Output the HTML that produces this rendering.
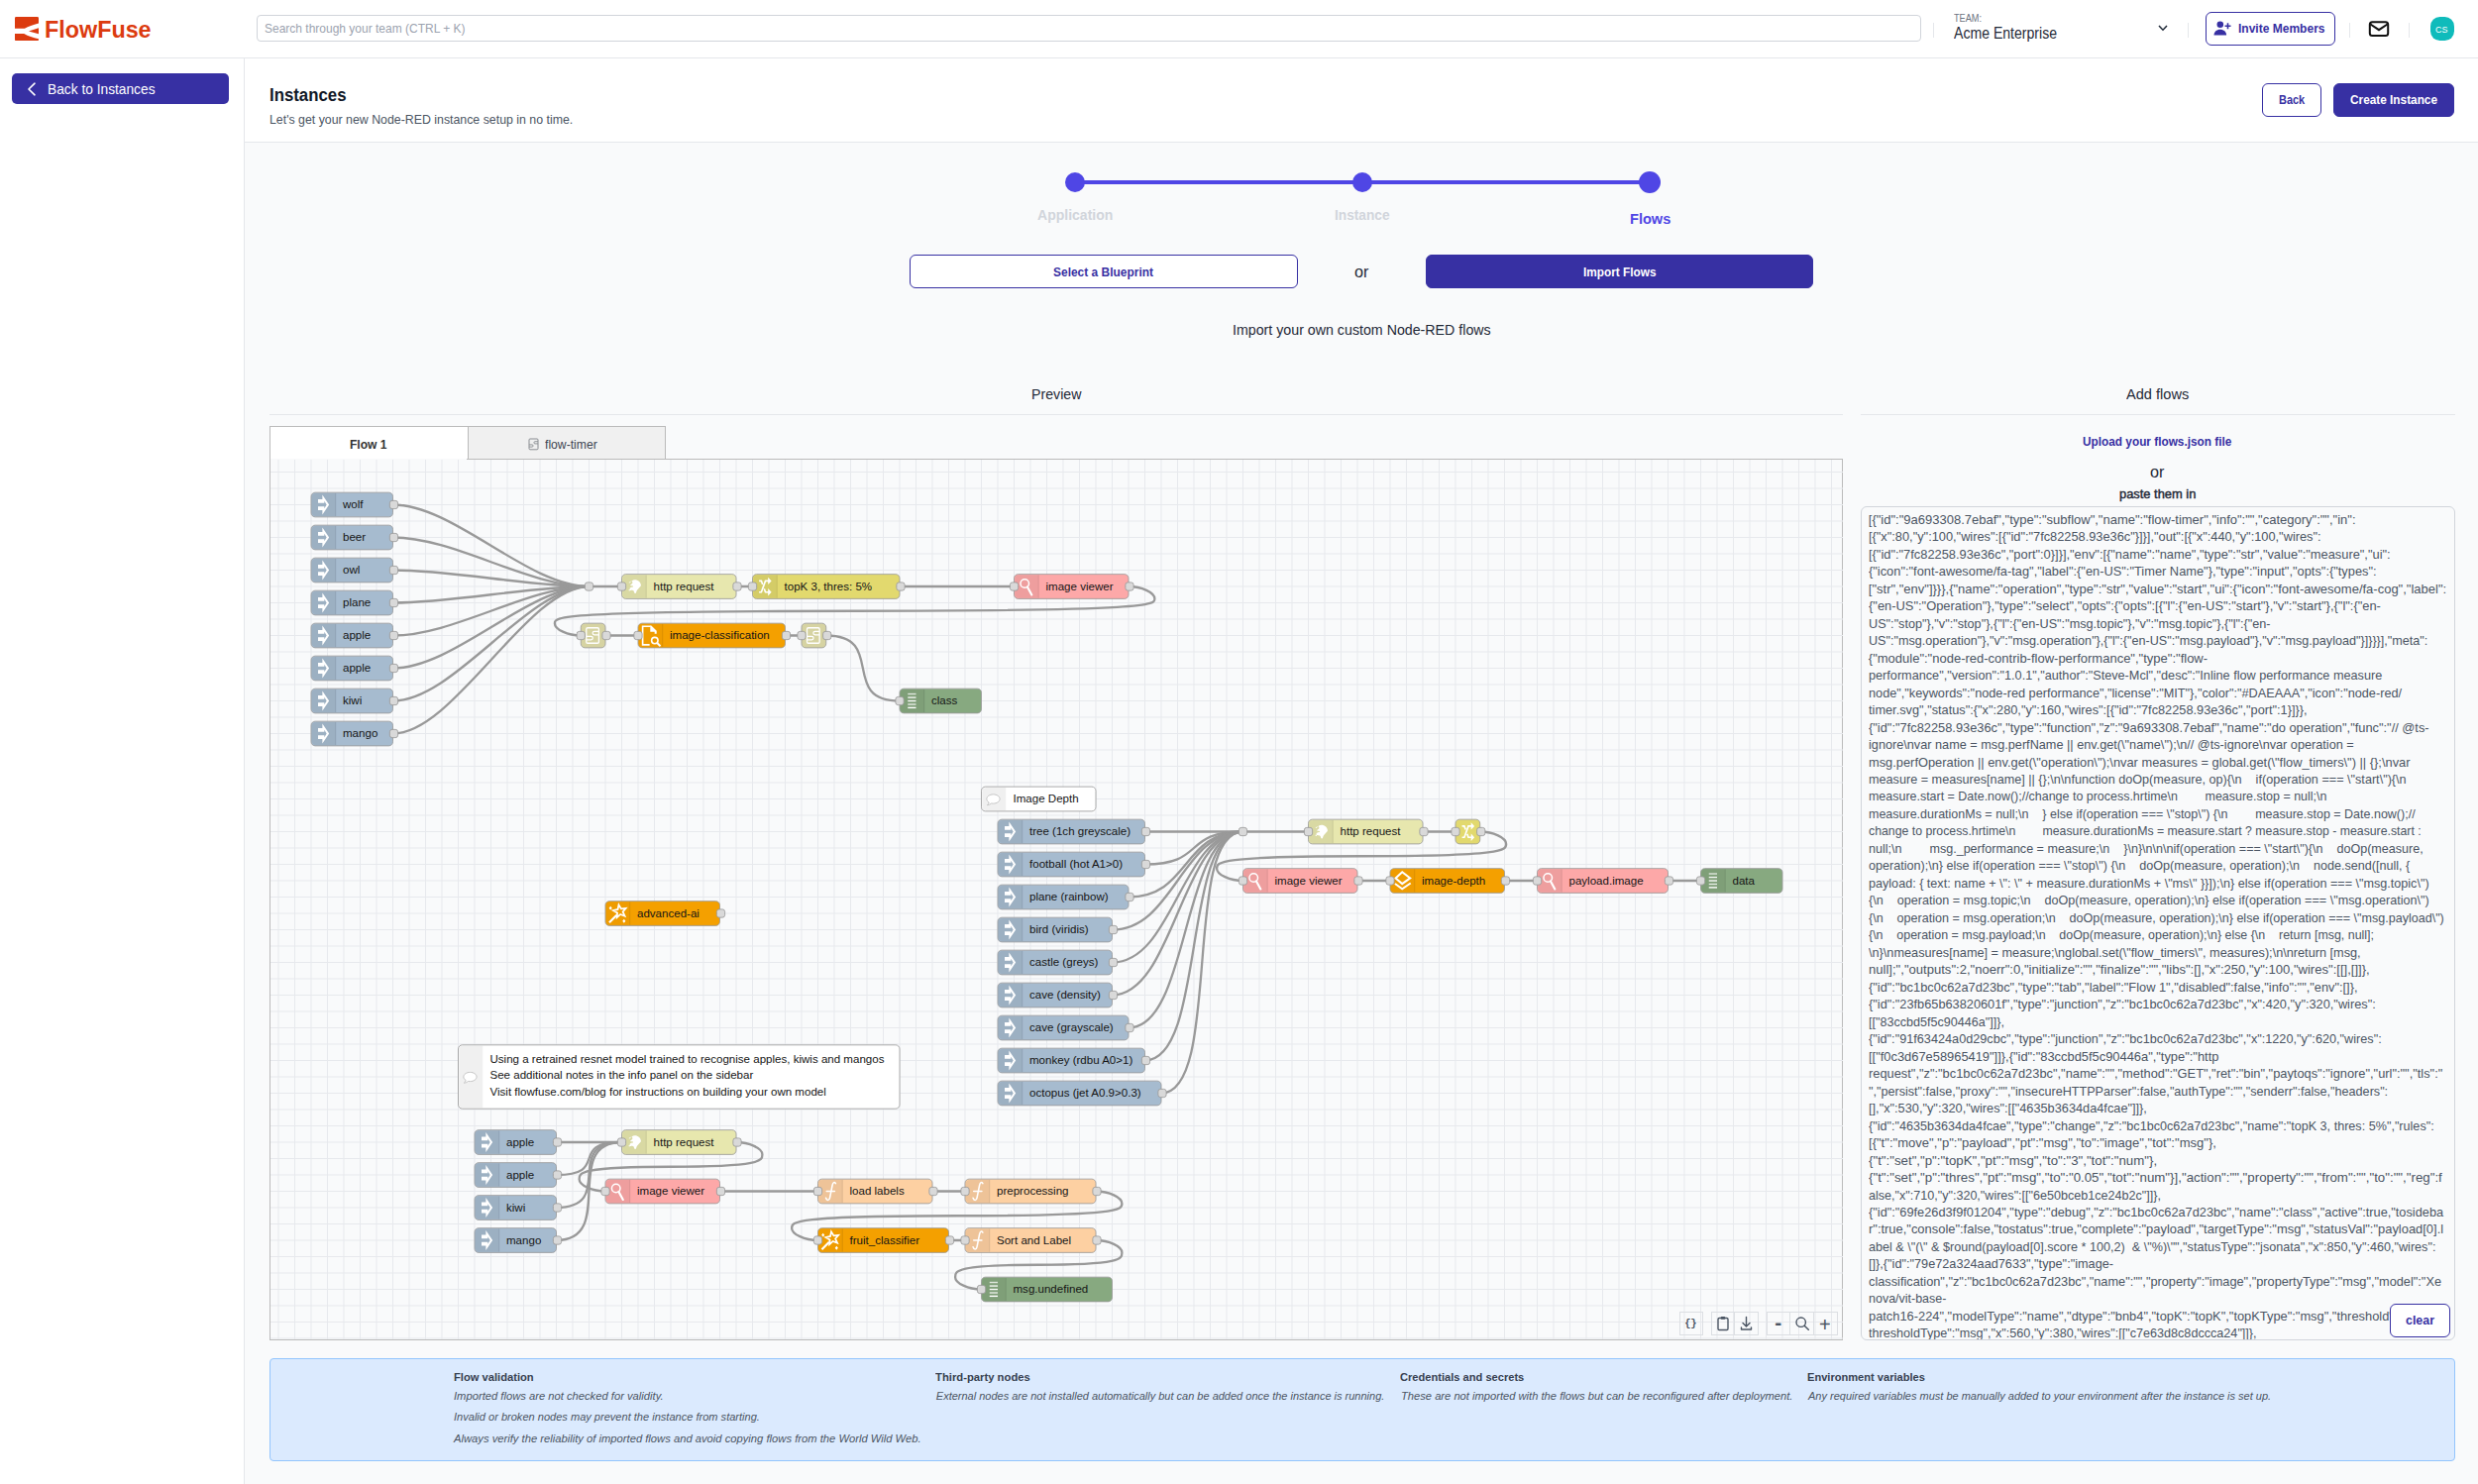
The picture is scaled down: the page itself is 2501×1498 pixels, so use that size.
<!DOCTYPE html><html lang="en"><head><meta charset="utf-8"><title>FlowFuse - Instances</title><style>
*{box-sizing:border-box;margin:0;padding:0}
html,body{width:2501px;height:1498px;overflow:hidden;background:#f9fafb;font-family:"Liberation Sans", Arial, sans-serif}
.a{position:absolute}
.t{position:absolute;white-space:nowrap;transform-origin:0 50%;}
.btn{position:absolute;border-radius:6px;border:1px solid #3730a3}
.sep{position:absolute;width:1px;background:#e5e7eb;top:23px;height:15px}
.tb{position:absolute;top:1324px;height:24px;border:1px solid #dcdfe3;}
</style></head><body>
<div class="a" style="left:0;top:0;width:2501px;height:59px;background:#fff;border-bottom:1px solid #e5e7eb"></div>
<svg class="a" style="left:15px;top:16.900px" width="24" height="24.200" viewBox="0 0 23.900 24.100"><g fill="#dc3b0f"><path d="M1.200 0H22.700a1.200 1.200 0 0 1 1.200 1.200V6.600C18 8 13.500 9.800 9.850 11.800H0V1.200A1.200 1.200 0 0 1 1.200 0Z"/><path d="M13.900 14.500L23.900 11.100V17.100Z"/><path d="M0 16.900H9.200C13.500 19.200 18 21 23.900 22.100V22.900a1.200 1.200 0 0 1-1.200 1.200H1.200A1.200 1.200 0 0 1 0 22.900Z"/></g></svg>
<div class="a" style="left:259px;top:15px;width:1680px;height:27px;border:1px solid #d1d5db;border-radius:4px;background:#fff"></div>
<div class="sep" style="left:1951px"></div>
<div class="sep" style="left:2208px"></div>
<div class="sep" style="left:2371px"></div>
<div class="sep" style="left:2431px"></div>
<svg class="a" style="left:2177px;top:24px" width="12" height="9" viewBox="0 0 12 9"><path d="M2 2L6 6.200L10 2" fill="none" stroke="#1f2937" stroke-width="1.500"/></svg>
<div class="btn" style="left:2226px;top:12px;width:131px;height:34px;background:#fff"></div>
<svg class="a" style="left:2234px;top:20px" width="18" height="17" viewBox="0 0 18 17"><g fill="#3730a3"><circle cx="6.800" cy="4.800" r="3.300"/><path d="M0.500 15.500c0-3.600 2.700-5.800 6.300-5.800s6.300 2.200 6.300 5.800Z"/><path d="M13.700 3.300h1.600v2.200h2.200v1.600h-2.200v2.200h-1.600V7.100h-2.200V5.500h2.200Z"/></g></svg>
<svg class="a" style="left:2390px;top:20px" width="22" height="18" viewBox="0 0 22 18"><rect x="1.800" y="2.200" width="18.400" height="13.800" rx="2.500" fill="none" stroke="#111" stroke-width="2"/><path d="M2.500 4.500L11 10.200L19.500 4.500" fill="none" stroke="#111" stroke-width="2"/></svg>
<div class="a" style="left:2452.500px;top:17px;width:24px;height:24px;border-radius:9.5px;background:#0fbbbb"></div>
<div class="a" style="left:0;top:59px;width:247px;height:1439px;background:#fff;border-right:1px solid #e5e7eb"></div>
<div class="a" style="left:12px;top:74px;width:218.500px;height:30.500px;border-radius:5px;background:#3730a3"></div>
<svg class="a" style="left:26px;top:82px" width="12" height="16" viewBox="0 0 12 16"><path d="M9 2.200L3 8L9 13.800" fill="none" stroke="#fff" stroke-width="1.600" stroke-linecap="round" stroke-linejoin="round"/></svg>
<div class="a" style="left:247px;top:59px;width:2254px;height:85px;background:#fff;border-bottom:1px solid #e5e7eb"></div>
<div class="btn" style="left:2282.800px;top:84px;width:60.700px;height:33.500px;background:#fff"></div>
<div class="btn" style="left:2354.800px;top:84px;width:122.700px;height:33.500px;background:#3730a3"></div>
<div class="a" style="left:1084px;top:182px;width:581px;height:4px;background:#4f46e5"></div>
<div class="a" style="left:1074.500px;top:173.800px;width:20px;height:20px;border-radius:10px;background:#4f46e5"></div>
<div class="a" style="left:1364.800px;top:173.800px;width:20px;height:20px;border-radius:10px;background:#4f46e5"></div>
<div class="a" style="left:1654.200px;top:172.900px;width:22px;height:22px;border-radius:11px;background:#4f46e5"></div>
<div class="btn" style="left:918px;top:257px;width:391.500px;height:33.500px;background:#fff"></div>
<div class="btn" style="left:1438.800px;top:257px;width:391.200px;height:33.500px;background:#3730a3"></div>
<div class="a" style="left:272px;top:418px;width:1588px;height:1px;background:#e5e7eb"></div>
<div class="a" style="left:1878px;top:418px;width:600px;height:1px;background:#e5e7eb"></div>
<div class="a" style="left:272px;top:430px;width:200px;height:34px;background:#fff;border:1px solid #bbb;border-bottom:none;border-right:none"></div>
<div class="a" style="left:472px;top:430px;width:200px;height:34px;background:#f0f0f0;border:1px solid #bbb"></div>
<svg class="a" style="left:533.3px;top:441.600px" width="11" height="13" viewBox="0 0 11 13"><rect x="1" y="1" width="9" height="10.800" rx="1" fill="none" stroke="#8a8d92" stroke-width="1"/><path d="M10 3.700H7a1.100 1.100 0 0 0 0 2.200H10M1 6.900H4a1.100 1.100 0 0 1 0 2.200H1" fill="none" stroke="#8a8d92" stroke-width=".9"/></svg>
<div class="a" style="left:272px;top:463px;width:1588px;height:890px;border:1px solid #bbb;border-top-color:#bbb"></div>
<div class="a" style="left:273px;top:463px;width:198px;height:1px;background:#f9fafb"></div>
<div class="a" style="left:273px;top:464px;width:1587px;height:888px;overflow:hidden"><svg width="1587" height="889" style="position:absolute;left:0;top:0"><path d="M8.00 0V889M24.50 0V889M41.00 0V889M57.50 0V889M74.00 0V889M90.50 0V889M107.00 0V889M123.50 0V889M140.00 0V889M156.50 0V889M173.00 0V889M189.50 0V889M206.00 0V889M222.50 0V889M239.00 0V889M255.50 0V889M272.00 0V889M288.50 0V889M305.00 0V889M321.50 0V889M338.00 0V889M354.50 0V889M371.00 0V889M387.50 0V889M404.00 0V889M420.50 0V889M437.00 0V889M453.50 0V889M470.00 0V889M486.50 0V889M503.00 0V889M519.50 0V889M536.00 0V889M552.50 0V889M569.00 0V889M585.50 0V889M602.00 0V889M618.50 0V889M635.00 0V889M651.50 0V889M668.00 0V889M684.50 0V889M701.00 0V889M717.50 0V889M734.00 0V889M750.50 0V889M767.00 0V889M783.50 0V889M800.00 0V889M816.50 0V889M833.00 0V889M849.50 0V889M866.00 0V889M882.50 0V889M899.00 0V889M915.50 0V889M932.00 0V889M948.50 0V889M965.00 0V889M981.50 0V889M998.00 0V889M1014.50 0V889M1031.00 0V889M1047.50 0V889M1064.00 0V889M1080.50 0V889M1097.00 0V889M1113.50 0V889M1130.00 0V889M1146.50 0V889M1163.00 0V889M1179.50 0V889M1196.00 0V889M1212.50 0V889M1229.00 0V889M1245.50 0V889M1262.00 0V889M1278.50 0V889M1295.00 0V889M1311.50 0V889M1328.00 0V889M1344.50 0V889M1361.00 0V889M1377.50 0V889M1394.00 0V889M1410.50 0V889M1427.00 0V889M1443.50 0V889M1460.00 0V889M1476.50 0V889M1493.00 0V889M1509.50 0V889M1526.00 0V889M1542.50 0V889M1559.00 0V889M1575.50 0V889M0 12.50H1587M0 29.00H1587M0 45.50H1587M0 62.00H1587M0 78.50H1587M0 95.00H1587M0 111.50H1587M0 128.00H1587M0 144.50H1587M0 161.00H1587M0 177.50H1587M0 194.00H1587M0 210.50H1587M0 227.00H1587M0 243.50H1587M0 260.00H1587M0 276.50H1587M0 293.00H1587M0 309.50H1587M0 326.00H1587M0 342.50H1587M0 359.00H1587M0 375.50H1587M0 392.00H1587M0 408.50H1587M0 425.00H1587M0 441.50H1587M0 458.00H1587M0 474.50H1587M0 491.00H1587M0 507.50H1587M0 524.00H1587M0 540.50H1587M0 557.00H1587M0 573.50H1587M0 590.00H1587M0 606.50H1587M0 623.00H1587M0 639.50H1587M0 656.00H1587M0 672.50H1587M0 689.00H1587M0 705.50H1587M0 722.00H1587M0 738.50H1587M0 755.00H1587M0 771.50H1587M0 788.00H1587M0 804.50H1587M0 821.00H1587M0 837.50H1587M0 854.00H1587M0 870.50H1587M0 887.00H1587" stroke="#e7e9ed" stroke-width="1" fill="none"/></svg><svg width="1587" height="889" viewBox="0 0 1587 889" style="position:absolute;left:0;top:0">
<style>.nl{font-family:"Liberation Sans",Arial,sans-serif;font-size:14px;fill:#151515}.pt{fill:#d9d9d9;stroke:#999;stroke-width:1}.wr{fill:none;stroke:#999;stroke-width:2.8;stroke-linecap:round}</style>
<g transform="translate(-25 -136) scale(0.825)">
<path class="wr" d="M 180 220 C 255 220 345 320 420 320"/>
<path class="wr" d="M 180 260 C 255 260 345 320 420 320"/>
<path class="wr" d="M 180 300 C 255 300 345 320 420 320"/>
<path class="wr" d="M 180 340 C 255 340 345 320 420 320"/>
<path class="wr" d="M 180 380 C 255 380 345 320 420 320"/>
<path class="wr" d="M 180 420 C 255 420 345 320 420 320"/>
<path class="wr" d="M 180 460 C 255 460 345 320 420 320"/>
<path class="wr" d="M 180 500 C 255 500 345 320 420 320"/>
<path class="wr" d="M 420 320 C 450 320 430 320 460 320"/>
<path class="wr" d="M 600 320 C 615 320 605 320 620 320"/>
<path class="wr" d="M 800 320 C 875 320 865 320 940 320"/>
<path class="wr" d="M 1080 320 C 1096 320 1112 327.5 1112 335 S 1112 350 745 350 S 378 357.5 378 365 S 394 380 410 380"/>
<path class="wr" d="M 440 380 C 470 380 450 380 480 380"/>
<path class="wr" d="M 660 380 C 675 380 665 380 680 380"/>
<path class="wr" d="M 710 380 C 785 380 725 460 800 460"/>
<path class="wr" d="M 1100 620 C 1175 620 1145 620 1220 620"/>
<path class="wr" d="M 1100 660 C 1175 660 1145 620 1220 620"/>
<path class="wr" d="M 1080 700 C 1155 700 1145 620 1220 620"/>
<path class="wr" d="M 1060 740 C 1135 740 1145 620 1220 620"/>
<path class="wr" d="M 1060 780 C 1135 780 1145 620 1220 620"/>
<path class="wr" d="M 1060 820 C 1135 820 1145 620 1220 620"/>
<path class="wr" d="M 1080 860 C 1155 860 1145 620 1220 620"/>
<path class="wr" d="M 1100 900 C 1175 900 1145 620 1220 620"/>
<path class="wr" d="M 1120 940 C 1195 940 1145 620 1220 620"/>
<path class="wr" d="M 1220 620 C 1280 620 1240 620 1300 620"/>
<path class="wr" d="M 1440 620 C 1470 620 1450 620 1480 620"/>
<path class="wr" d="M 1510 620 C 1526 620 1542 627.5 1542 635 S 1542 650 1365 650 S 1188 657.5 1188 665 S 1204 680 1220 680"/>
<path class="wr" d="M 1360 680 C 1390 680 1370 680 1400 680"/>
<path class="wr" d="M 1540 680 C 1570 680 1550 680 1580 680"/>
<path class="wr" d="M 1740 680 C 1770 680 1750 680 1780 680"/>
<path class="wr" d="M 380 1000 C 440 1000 400 1000 460 1000"/>
<path class="wr" d="M 380 1040 C 447.082 1040 392.918 1000 460 1000"/>
<path class="wr" d="M 380 1080 C 455 1080 385 1000 460 1000"/>
<path class="wr" d="M 380 1120 C 455 1120 385 1000 460 1000"/>
<path class="wr" d="M 600 1000 C 616 1000 632 1007.5 632 1015 S 632 1030 520 1030 S 408 1037.5 408 1045 S 424 1060 440 1060"/>
<path class="wr" d="M 580 1060 C 655 1060 625 1060 700 1060"/>
<path class="wr" d="M 840 1060 C 870 1060 850 1060 880 1060"/>
<path class="wr" d="M 1040 1060 C 1056 1060 1072 1067.5 1072 1075 S 1072 1090 870 1090 S 668 1097.5 668 1105 S 684 1120 700 1120"/>
<path class="wr" d="M 860 1120 C 875 1120 865 1120 880 1120"/>
<path class="wr" d="M 1040 1120 C 1056 1120 1072 1127.5 1072 1135 S 1072 1150 970 1150 S 868 1157.5 868 1165 S 884 1180 900 1180"/>
<rect class="pt" x="415" y="315" width="10" height="10" rx="3"/>
<rect class="pt" x="1215" y="615" width="10" height="10" rx="3"/>
<g transform="translate(80 205)"><rect x="0" y="0" width="100" height="30" rx="5" fill="#a6bbcf" stroke="#999" stroke-width="1"/><path d="M5.500 1h24.500v28h-24.500a4.500 4.500 0 0 1-4.500-4.500v-19a4.500 4.500 0 0 1 4.500-4.500Z" fill="#000" fill-opacity=".06"/><path d="M30 1v28" stroke="#000" stroke-opacity=".12" stroke-width="1"/><path fill="#fff" fill-rule="evenodd" d="M8.5 8.3H13.8V3L22 15L13.8 27V21.7H8.5Z M8.5 12.9H16.2V10.4L19 15L16.2 19.6V17.1H8.5Z"/><text x="38.8" y="19.7" class="nl">wolf</text><rect class="pt" x="96.2" y="10" width="10" height="10" rx="3"/></g>
<g transform="translate(80 245)"><rect x="0" y="0" width="100" height="30" rx="5" fill="#a6bbcf" stroke="#999" stroke-width="1"/><path d="M5.500 1h24.500v28h-24.500a4.500 4.500 0 0 1-4.500-4.500v-19a4.500 4.500 0 0 1 4.500-4.500Z" fill="#000" fill-opacity=".06"/><path d="M30 1v28" stroke="#000" stroke-opacity=".12" stroke-width="1"/><path fill="#fff" fill-rule="evenodd" d="M8.5 8.3H13.8V3L22 15L13.8 27V21.7H8.5Z M8.5 12.9H16.2V10.4L19 15L16.2 19.6V17.1H8.5Z"/><text x="38.8" y="19.7" class="nl">beer</text><rect class="pt" x="96.2" y="10" width="10" height="10" rx="3"/></g>
<g transform="translate(80 285)"><rect x="0" y="0" width="100" height="30" rx="5" fill="#a6bbcf" stroke="#999" stroke-width="1"/><path d="M5.500 1h24.500v28h-24.500a4.500 4.500 0 0 1-4.500-4.500v-19a4.500 4.500 0 0 1 4.500-4.500Z" fill="#000" fill-opacity=".06"/><path d="M30 1v28" stroke="#000" stroke-opacity=".12" stroke-width="1"/><path fill="#fff" fill-rule="evenodd" d="M8.5 8.3H13.8V3L22 15L13.8 27V21.7H8.5Z M8.5 12.9H16.2V10.4L19 15L16.2 19.6V17.1H8.5Z"/><text x="38.8" y="19.7" class="nl">owl</text><rect class="pt" x="96.2" y="10" width="10" height="10" rx="3"/></g>
<g transform="translate(80 325)"><rect x="0" y="0" width="100" height="30" rx="5" fill="#a6bbcf" stroke="#999" stroke-width="1"/><path d="M5.500 1h24.500v28h-24.500a4.500 4.500 0 0 1-4.500-4.500v-19a4.500 4.500 0 0 1 4.500-4.500Z" fill="#000" fill-opacity=".06"/><path d="M30 1v28" stroke="#000" stroke-opacity=".12" stroke-width="1"/><path fill="#fff" fill-rule="evenodd" d="M8.5 8.3H13.8V3L22 15L13.8 27V21.7H8.5Z M8.5 12.9H16.2V10.4L19 15L16.2 19.6V17.1H8.5Z"/><text x="38.8" y="19.7" class="nl">plane</text><rect class="pt" x="96.2" y="10" width="10" height="10" rx="3"/></g>
<g transform="translate(80 365)"><rect x="0" y="0" width="100" height="30" rx="5" fill="#a6bbcf" stroke="#999" stroke-width="1"/><path d="M5.500 1h24.500v28h-24.500a4.500 4.500 0 0 1-4.500-4.500v-19a4.500 4.500 0 0 1 4.500-4.500Z" fill="#000" fill-opacity=".06"/><path d="M30 1v28" stroke="#000" stroke-opacity=".12" stroke-width="1"/><path fill="#fff" fill-rule="evenodd" d="M8.5 8.3H13.8V3L22 15L13.8 27V21.7H8.5Z M8.5 12.9H16.2V10.4L19 15L16.2 19.6V17.1H8.5Z"/><text x="38.8" y="19.7" class="nl">apple</text><rect class="pt" x="96.2" y="10" width="10" height="10" rx="3"/></g>
<g transform="translate(80 405)"><rect x="0" y="0" width="100" height="30" rx="5" fill="#a6bbcf" stroke="#999" stroke-width="1"/><path d="M5.500 1h24.500v28h-24.500a4.500 4.500 0 0 1-4.500-4.500v-19a4.500 4.500 0 0 1 4.500-4.500Z" fill="#000" fill-opacity=".06"/><path d="M30 1v28" stroke="#000" stroke-opacity=".12" stroke-width="1"/><path fill="#fff" fill-rule="evenodd" d="M8.5 8.3H13.8V3L22 15L13.8 27V21.7H8.5Z M8.5 12.9H16.2V10.4L19 15L16.2 19.6V17.1H8.5Z"/><text x="38.8" y="19.7" class="nl">apple</text><rect class="pt" x="96.2" y="10" width="10" height="10" rx="3"/></g>
<g transform="translate(80 445)"><rect x="0" y="0" width="100" height="30" rx="5" fill="#a6bbcf" stroke="#999" stroke-width="1"/><path d="M5.500 1h24.500v28h-24.500a4.500 4.500 0 0 1-4.500-4.500v-19a4.500 4.500 0 0 1 4.500-4.500Z" fill="#000" fill-opacity=".06"/><path d="M30 1v28" stroke="#000" stroke-opacity=".12" stroke-width="1"/><path fill="#fff" fill-rule="evenodd" d="M8.5 8.3H13.8V3L22 15L13.8 27V21.7H8.5Z M8.5 12.9H16.2V10.4L19 15L16.2 19.6V17.1H8.5Z"/><text x="38.8" y="19.7" class="nl">kiwi</text><rect class="pt" x="96.2" y="10" width="10" height="10" rx="3"/></g>
<g transform="translate(80 485)"><rect x="0" y="0" width="100" height="30" rx="5" fill="#a6bbcf" stroke="#999" stroke-width="1"/><path d="M5.500 1h24.500v28h-24.500a4.500 4.500 0 0 1-4.500-4.500v-19a4.500 4.500 0 0 1 4.500-4.500Z" fill="#000" fill-opacity=".06"/><path d="M30 1v28" stroke="#000" stroke-opacity=".12" stroke-width="1"/><path fill="#fff" fill-rule="evenodd" d="M8.5 8.3H13.8V3L22 15L13.8 27V21.7H8.5Z M8.5 12.9H16.2V10.4L19 15L16.2 19.6V17.1H8.5Z"/><text x="38.8" y="19.7" class="nl">mango</text><rect class="pt" x="96.2" y="10" width="10" height="10" rx="3"/></g>
<g transform="translate(460 305)"><rect x="0" y="0" width="140" height="30" rx="5" fill="#e7e7ae" stroke="#999" stroke-width="1"/><path d="M5.500 1h24.500v28h-24.500a4.500 4.500 0 0 1-4.500-4.500v-19a4.500 4.500 0 0 1 4.500-4.500Z" fill="#000" fill-opacity=".06"/><path d="M30 1v28" stroke="#000" stroke-opacity=".12" stroke-width="1"/><path fill="#fff" d="M12.2 8.2c1.5-1.2 4-1.6 6-1 2.6.8 5 3 5.3 6 .1 1.2-.6 2.2-1.5 2.6-.7.3-1 1.2-1.6 1.8-.8.8-1.6 1.3-2 2.4-.4 1.2-.8 3.2-1.8 3.4-1.2.2-1.5-1.8-1.9-3-.3-.9-1.700-1-2.600-1-1.200 0-2.200-.4-2.300-1.400-.1-.9.5-1.600 1.400-1.900 1-.3 2.100-.1 2.800-.8.5-.5-.3-1.200-1-1.300-.9-.1-1.900.5-2.300-.3-.3-.7.5-1.200 1.100-1.500.900-.5 1.600-1.400 1.400-2.400-.1-.5-.6-1-1-.6Z"/><path fill="#fff" d="M8.6 10.300c.9-.9 2-1.700 3.100-2l-1.200 1.700c-.5.6-1.300.9-1.900.3Z"/><circle cx="9.400" cy="19.600" r=".9" fill="#fff"/><text x="38.8" y="19.7" class="nl">http request</text><rect class="pt" x="-5" y="10" width="10" height="10" rx="3"/><rect class="pt" x="136.2" y="10" width="10" height="10" rx="3"/></g>
<g transform="translate(620 305)"><rect x="0" y="0" width="180" height="30" rx="5" fill="#e2d96e" stroke="#999" stroke-width="1"/><path d="M5.500 1h24.500v28h-24.500a4.500 4.500 0 0 1-4.500-4.500v-19a4.500 4.500 0 0 1 4.500-4.500Z" fill="#000" fill-opacity=".06"/><path d="M30 1v28" stroke="#000" stroke-opacity=".12" stroke-width="1"/><g fill="none" stroke="#fff" stroke-width="2"><path d="M8 22H10.800L15.800 8.200H20"/><path d="M8 8.200H10.800L12.400 12.600M14.300 17.800L15.800 22H20"/></g><path fill="#fff" d="M19 3.700L23.200 8.200L19 12.700ZM19 17.500L23.200 22L19 26.500Z"/><text x="38.8" y="19.7" class="nl">topK 3, thres: 5%</text><rect class="pt" x="-5" y="10" width="10" height="10" rx="3"/><rect class="pt" x="176.2" y="10" width="10" height="10" rx="3"/></g>
<g transform="translate(940 305)"><rect x="0" y="0" width="140" height="30" rx="5" fill="#fda8a8" stroke="#999" stroke-width="1"/><path d="M5.500 1h24.500v28h-24.500a4.500 4.500 0 0 1-4.500-4.500v-19a4.500 4.500 0 0 1 4.500-4.500Z" fill="#000" fill-opacity=".06"/><path d="M30 1v28" stroke="#000" stroke-opacity=".12" stroke-width="1"/><circle cx="13" cy="11.3" r="5.2" fill="none" stroke="#fff" stroke-width="1.8"/><path d="M16.3 15.6L21.6 25.3" stroke="#fff" stroke-width="2.6" stroke-linecap="round"/><text x="38.8" y="19.7" class="nl">image viewer</text><rect class="pt" x="-5" y="10" width="10" height="10" rx="3"/><rect class="pt" x="136.2" y="10" width="10" height="10" rx="3"/></g>
<g transform="translate(410 365)"><rect x="0" y="0" width="30" height="30" rx="5" fill="#d6d3a2" stroke="#999" stroke-width="1"/><rect x="6.700" y="5.600" width="15.300" height="18.800" rx="1.500" fill="none" stroke="#fff" stroke-width="1.600"/><path fill="none" stroke="#fff" stroke-width="1.500" d="M22 10H16.500a2.100 2.100 0 0 0 0 4.200H22M6.700 16H12.500a2.100 2.100 0 0 1 0 4.200H6.700"/><rect class="pt" x="-5" y="10" width="10" height="10" rx="3"/><rect class="pt" x="26.2" y="10" width="10" height="10" rx="3"/></g>
<g transform="translate(480 365)"><rect x="0" y="0" width="180" height="30" rx="5" fill="#f4a000" stroke="#999" stroke-width="1"/><path d="M5.500 1h24.500v28h-24.500a4.500 4.500 0 0 1-4.500-4.500v-19a4.500 4.500 0 0 1 4.500-4.500Z" fill="#000" fill-opacity=".02"/><path d="M30 1v28" stroke="#000" stroke-opacity=".12" stroke-width="1"/><path fill="none" stroke="#fff" stroke-width="2" d="M14.100 26.400H5.600V3.800H15.500"/><path fill="#fff" d="M14.900 2.800H16.200L22.700 9.300V12.800H20.200V10.400H14.900Z"/><circle cx="20.400" cy="21.200" r="3.900" fill="none" stroke="#fff" stroke-width="1.900"/><path d="M23.300 24.100L27.300 28" stroke="#fff" stroke-width="2.300"/><text x="38.8" y="19.7" class="nl">image-classification</text><rect class="pt" x="-5" y="10" width="10" height="10" rx="3"/><rect class="pt" x="176.2" y="10" width="10" height="10" rx="3"/></g>
<g transform="translate(680 365)"><rect x="0" y="0" width="30" height="30" rx="5" fill="#d6d3a2" stroke="#999" stroke-width="1"/><rect x="6.700" y="5.600" width="15.300" height="18.800" rx="1.500" fill="none" stroke="#fff" stroke-width="1.600"/><path fill="none" stroke="#fff" stroke-width="1.500" d="M22 10H16.500a2.100 2.100 0 0 0 0 4.200H22M6.700 16H12.500a2.100 2.100 0 0 1 0 4.200H6.700"/><rect class="pt" x="-5" y="10" width="10" height="10" rx="3"/><rect class="pt" x="26.2" y="10" width="10" height="10" rx="3"/></g>
<g transform="translate(800 445)"><rect x="0" y="0" width="100" height="30" rx="5" fill="#87a980" stroke="#999" stroke-width="1"/><path d="M5.500 1h24.500v28h-24.500a4.500 4.500 0 0 1-4.500-4.500v-19a4.500 4.500 0 0 1 4.500-4.500Z" fill="#000" fill-opacity=".06"/><path d="M30 1v28" stroke="#000" stroke-opacity=".12" stroke-width="1"/><rect x="10" y="5.7" width="10" height="1.700" fill="#fff" opacity="0.75"/><rect x="10" y="10" width="10" height="1.700" fill="#fff" opacity="0.9"/><rect x="10" y="14.2" width="10" height="1.700" fill="#fff" opacity="0.95"/><rect x="10" y="18.4" width="10" height="1.700" fill="#fff" opacity="0.8"/><rect x="10" y="22.5" width="10" height="1.700" fill="#fff" opacity="1"/><text x="38.8" y="19.7" class="nl">class</text><rect class="pt" x="-5" y="10" width="10" height="10" rx="3"/></g>
<g transform="translate(440 705)"><rect x="0" y="0" width="140" height="30" rx="5" fill="#f4a000" stroke="#999" stroke-width="1"/><path d="M5.500 1h24.500v28h-24.500a4.500 4.500 0 0 1-4.500-4.500v-19a4.500 4.500 0 0 1 4.500-4.500Z" fill="#000" fill-opacity=".02"/><path d="M30 1v28" stroke="#000" stroke-opacity=".12" stroke-width="1"/><path d="M4.800 26.200L13.800 17" stroke="#fff" stroke-width="2.600"/><path d="M16.38 4.52L19.38 9.36L25.04 8.75L21.36 13.10L23.70 18.30L18.43 16.15L14.21 19.97L14.62 14.29L9.68 11.46L15.21 10.10Z" fill="none" stroke="#fff" stroke-width="2.100" stroke-linejoin="miter"/><path fill="#fff" d="M6.300 6.200l1.900 2.300-1.900 2.300-1.900-2.300ZM22.800 22l1.900 2.400-1.900 2.400-1.900-2.400Z"/><text x="38.8" y="19.7" class="nl">advanced-ai</text><rect class="pt" x="136.2" y="10" width="10" height="10" rx="3"/></g>
<g transform="translate(900 565)"><rect x="0" y="0" width="140" height="30" rx="5" fill="#fff" stroke="#999" stroke-width="1"/><path d="M5.500 1h24.500v28h-24.500a4.500 4.500 0 0 1-4.500-4.500v-19a4.500 4.500 0 0 1 4.500-4.500Z" fill="#000" fill-opacity=".06"/><g transform="translate(0 0)"><path fill="#fff" stroke="#c4c4c4" stroke-width="1.200" d="M14.500 9.400c-4.400 0-8 2.500-8 5.600 0 1.700 1.100 3.200 2.800 4.200-.300 1.300-1.100 2.500-2.300 3.300 2.200-.100 4-.900 5.200-2.100.700.100 1.500.200 2.300.200 4.400 0 8-2.500 8-5.600s-3.600-5.600-8-5.600Z"/></g><text x="38.8" y="19.7" class="nl">Image Depth</text></g>
<g transform="translate(920 605)"><rect x="0" y="0" width="180" height="30" rx="5" fill="#a6bbcf" stroke="#999" stroke-width="1"/><path d="M5.500 1h24.500v28h-24.500a4.500 4.500 0 0 1-4.500-4.500v-19a4.500 4.500 0 0 1 4.500-4.500Z" fill="#000" fill-opacity=".06"/><path d="M30 1v28" stroke="#000" stroke-opacity=".12" stroke-width="1"/><path fill="#fff" fill-rule="evenodd" d="M8.5 8.3H13.8V3L22 15L13.8 27V21.7H8.5Z M8.5 12.9H16.2V10.4L19 15L16.2 19.6V17.1H8.5Z"/><text x="38.8" y="19.7" class="nl">tree (1ch greyscale)</text><rect class="pt" x="176.2" y="10" width="10" height="10" rx="3"/></g>
<g transform="translate(920 645)"><rect x="0" y="0" width="180" height="30" rx="5" fill="#a6bbcf" stroke="#999" stroke-width="1"/><path d="M5.500 1h24.500v28h-24.500a4.500 4.500 0 0 1-4.500-4.500v-19a4.500 4.500 0 0 1 4.500-4.500Z" fill="#000" fill-opacity=".06"/><path d="M30 1v28" stroke="#000" stroke-opacity=".12" stroke-width="1"/><path fill="#fff" fill-rule="evenodd" d="M8.5 8.3H13.8V3L22 15L13.8 27V21.7H8.5Z M8.5 12.9H16.2V10.4L19 15L16.2 19.6V17.1H8.5Z"/><text x="38.8" y="19.7" class="nl">football (hot A1&gt;0)</text><rect class="pt" x="176.2" y="10" width="10" height="10" rx="3"/></g>
<g transform="translate(920 685)"><rect x="0" y="0" width="160" height="30" rx="5" fill="#a6bbcf" stroke="#999" stroke-width="1"/><path d="M5.500 1h24.500v28h-24.500a4.500 4.500 0 0 1-4.500-4.500v-19a4.500 4.500 0 0 1 4.500-4.500Z" fill="#000" fill-opacity=".06"/><path d="M30 1v28" stroke="#000" stroke-opacity=".12" stroke-width="1"/><path fill="#fff" fill-rule="evenodd" d="M8.5 8.3H13.8V3L22 15L13.8 27V21.7H8.5Z M8.5 12.9H16.2V10.4L19 15L16.2 19.6V17.1H8.5Z"/><text x="38.8" y="19.7" class="nl">plane (rainbow)</text><rect class="pt" x="156.2" y="10" width="10" height="10" rx="3"/></g>
<g transform="translate(920 725)"><rect x="0" y="0" width="140" height="30" rx="5" fill="#a6bbcf" stroke="#999" stroke-width="1"/><path d="M5.500 1h24.500v28h-24.500a4.500 4.500 0 0 1-4.500-4.500v-19a4.500 4.500 0 0 1 4.500-4.500Z" fill="#000" fill-opacity=".06"/><path d="M30 1v28" stroke="#000" stroke-opacity=".12" stroke-width="1"/><path fill="#fff" fill-rule="evenodd" d="M8.5 8.3H13.8V3L22 15L13.8 27V21.7H8.5Z M8.5 12.9H16.2V10.4L19 15L16.2 19.6V17.1H8.5Z"/><text x="38.8" y="19.7" class="nl">bird (viridis)</text><rect class="pt" x="136.2" y="10" width="10" height="10" rx="3"/></g>
<g transform="translate(920 765)"><rect x="0" y="0" width="140" height="30" rx="5" fill="#a6bbcf" stroke="#999" stroke-width="1"/><path d="M5.500 1h24.500v28h-24.500a4.500 4.500 0 0 1-4.500-4.500v-19a4.500 4.500 0 0 1 4.500-4.500Z" fill="#000" fill-opacity=".06"/><path d="M30 1v28" stroke="#000" stroke-opacity=".12" stroke-width="1"/><path fill="#fff" fill-rule="evenodd" d="M8.5 8.3H13.8V3L22 15L13.8 27V21.7H8.5Z M8.5 12.9H16.2V10.4L19 15L16.2 19.6V17.1H8.5Z"/><text x="38.8" y="19.7" class="nl">castle (greys)</text><rect class="pt" x="136.2" y="10" width="10" height="10" rx="3"/></g>
<g transform="translate(920 805)"><rect x="0" y="0" width="140" height="30" rx="5" fill="#a6bbcf" stroke="#999" stroke-width="1"/><path d="M5.500 1h24.500v28h-24.500a4.500 4.500 0 0 1-4.500-4.500v-19a4.500 4.500 0 0 1 4.500-4.500Z" fill="#000" fill-opacity=".06"/><path d="M30 1v28" stroke="#000" stroke-opacity=".12" stroke-width="1"/><path fill="#fff" fill-rule="evenodd" d="M8.5 8.3H13.8V3L22 15L13.8 27V21.7H8.5Z M8.5 12.9H16.2V10.4L19 15L16.2 19.6V17.1H8.5Z"/><text x="38.8" y="19.7" class="nl">cave (density)</text><rect class="pt" x="136.2" y="10" width="10" height="10" rx="3"/></g>
<g transform="translate(920 845)"><rect x="0" y="0" width="160" height="30" rx="5" fill="#a6bbcf" stroke="#999" stroke-width="1"/><path d="M5.500 1h24.500v28h-24.500a4.500 4.500 0 0 1-4.500-4.500v-19a4.500 4.500 0 0 1 4.500-4.500Z" fill="#000" fill-opacity=".06"/><path d="M30 1v28" stroke="#000" stroke-opacity=".12" stroke-width="1"/><path fill="#fff" fill-rule="evenodd" d="M8.5 8.3H13.8V3L22 15L13.8 27V21.7H8.5Z M8.5 12.9H16.2V10.4L19 15L16.2 19.6V17.1H8.5Z"/><text x="38.8" y="19.7" class="nl">cave (grayscale)</text><rect class="pt" x="156.2" y="10" width="10" height="10" rx="3"/></g>
<g transform="translate(920 885)"><rect x="0" y="0" width="180" height="30" rx="5" fill="#a6bbcf" stroke="#999" stroke-width="1"/><path d="M5.500 1h24.500v28h-24.500a4.500 4.500 0 0 1-4.500-4.500v-19a4.500 4.500 0 0 1 4.500-4.500Z" fill="#000" fill-opacity=".06"/><path d="M30 1v28" stroke="#000" stroke-opacity=".12" stroke-width="1"/><path fill="#fff" fill-rule="evenodd" d="M8.5 8.3H13.8V3L22 15L13.8 27V21.7H8.5Z M8.5 12.9H16.2V10.4L19 15L16.2 19.6V17.1H8.5Z"/><text x="38.8" y="19.7" class="nl">monkey (rdbu A0&gt;1)</text><rect class="pt" x="176.2" y="10" width="10" height="10" rx="3"/></g>
<g transform="translate(920 925)"><rect x="0" y="0" width="200" height="30" rx="5" fill="#a6bbcf" stroke="#999" stroke-width="1"/><path d="M5.500 1h24.500v28h-24.500a4.500 4.500 0 0 1-4.500-4.500v-19a4.500 4.500 0 0 1 4.500-4.500Z" fill="#000" fill-opacity=".06"/><path d="M30 1v28" stroke="#000" stroke-opacity=".12" stroke-width="1"/><path fill="#fff" fill-rule="evenodd" d="M8.5 8.3H13.8V3L22 15L13.8 27V21.7H8.5Z M8.5 12.9H16.2V10.4L19 15L16.2 19.6V17.1H8.5Z"/><text x="38.8" y="19.7" class="nl">octopus (jet A0.9&gt;0.3)</text><rect class="pt" x="196.2" y="10" width="10" height="10" rx="3"/></g>
<g transform="translate(1300 605)"><rect x="0" y="0" width="140" height="30" rx="5" fill="#e7e7ae" stroke="#999" stroke-width="1"/><path d="M5.500 1h24.500v28h-24.500a4.500 4.500 0 0 1-4.500-4.500v-19a4.500 4.500 0 0 1 4.500-4.500Z" fill="#000" fill-opacity=".06"/><path d="M30 1v28" stroke="#000" stroke-opacity=".12" stroke-width="1"/><path fill="#fff" d="M12.2 8.2c1.5-1.2 4-1.6 6-1 2.6.8 5 3 5.3 6 .1 1.2-.6 2.2-1.5 2.6-.7.3-1 1.2-1.6 1.8-.8.8-1.6 1.3-2 2.4-.4 1.2-.8 3.2-1.8 3.4-1.2.2-1.5-1.8-1.9-3-.3-.9-1.700-1-2.600-1-1.200 0-2.200-.4-2.300-1.400-.1-.9.5-1.600 1.400-1.900 1-.3 2.100-.1 2.800-.8.5-.5-.3-1.200-1-1.300-.9-.1-1.900.5-2.300-.3-.3-.7.5-1.200 1.100-1.500.900-.5 1.600-1.400 1.400-2.400-.1-.5-.6-1-1-.6Z"/><path fill="#fff" d="M8.6 10.300c.9-.9 2-1.700 3.100-2l-1.200 1.700c-.5.6-1.300.9-1.900.3Z"/><circle cx="9.400" cy="19.600" r=".9" fill="#fff"/><text x="38.8" y="19.7" class="nl">http request</text><rect class="pt" x="-5" y="10" width="10" height="10" rx="3"/><rect class="pt" x="136.2" y="10" width="10" height="10" rx="3"/></g>
<g transform="translate(1480 605)"><rect x="0" y="0" width="30" height="30" rx="5" fill="#e2d96e" stroke="#999" stroke-width="1"/><g fill="none" stroke="#fff" stroke-width="2"><path d="M8 22H10.800L15.800 8.200H20"/><path d="M8 8.200H10.800L12.400 12.600M14.300 17.800L15.800 22H20"/></g><path fill="#fff" d="M19 3.700L23.200 8.200L19 12.700ZM19 17.500L23.200 22L19 26.500Z"/><rect class="pt" x="-5" y="10" width="10" height="10" rx="3"/><rect class="pt" x="26.2" y="10" width="10" height="10" rx="3"/></g>
<g transform="translate(1220 665)"><rect x="0" y="0" width="140" height="30" rx="5" fill="#fda8a8" stroke="#999" stroke-width="1"/><path d="M5.500 1h24.500v28h-24.500a4.500 4.500 0 0 1-4.500-4.500v-19a4.500 4.500 0 0 1 4.500-4.500Z" fill="#000" fill-opacity=".06"/><path d="M30 1v28" stroke="#000" stroke-opacity=".12" stroke-width="1"/><circle cx="13" cy="11.3" r="5.2" fill="none" stroke="#fff" stroke-width="1.8"/><path d="M16.3 15.6L21.6 25.3" stroke="#fff" stroke-width="2.6" stroke-linecap="round"/><text x="38.8" y="19.7" class="nl">image viewer</text><rect class="pt" x="-5" y="10" width="10" height="10" rx="3"/><rect class="pt" x="136.2" y="10" width="10" height="10" rx="3"/></g>
<g transform="translate(1400 665)"><rect x="0" y="0" width="140" height="30" rx="5" fill="#f4a000" stroke="#999" stroke-width="1"/><path d="M5.500 1h24.500v28h-24.500a4.500 4.500 0 0 1-4.500-4.500v-19a4.500 4.500 0 0 1 4.500-4.500Z" fill="#000" fill-opacity=".02"/><path d="M30 1v28" stroke="#000" stroke-opacity=".12" stroke-width="1"/><g fill="none" stroke="#fff" stroke-width="2.500" stroke-linejoin="miter"><path d="M14.800 4.400L24.500 11.900L14.800 18.800L6.750 11.900Z"/><path d="M6 18.600L14.800 25.100L25.100 18"/></g><text x="38.8" y="19.7" class="nl">image-depth</text><rect class="pt" x="-5" y="10" width="10" height="10" rx="3"/><rect class="pt" x="136.2" y="10" width="10" height="10" rx="3"/></g>
<g transform="translate(1580 665)"><rect x="0" y="0" width="160" height="30" rx="5" fill="#fda8a8" stroke="#999" stroke-width="1"/><path d="M5.500 1h24.500v28h-24.500a4.500 4.500 0 0 1-4.500-4.500v-19a4.500 4.500 0 0 1 4.500-4.500Z" fill="#000" fill-opacity=".06"/><path d="M30 1v28" stroke="#000" stroke-opacity=".12" stroke-width="1"/><circle cx="13" cy="11.3" r="5.2" fill="none" stroke="#fff" stroke-width="1.8"/><path d="M16.3 15.6L21.6 25.3" stroke="#fff" stroke-width="2.6" stroke-linecap="round"/><text x="38.8" y="19.7" class="nl">payload.image</text><rect class="pt" x="-5" y="10" width="10" height="10" rx="3"/><rect class="pt" x="156.2" y="10" width="10" height="10" rx="3"/></g>
<g transform="translate(1780 665)"><rect x="0" y="0" width="100" height="30" rx="5" fill="#87a980" stroke="#999" stroke-width="1"/><path d="M5.500 1h24.500v28h-24.500a4.500 4.500 0 0 1-4.500-4.500v-19a4.500 4.500 0 0 1 4.500-4.500Z" fill="#000" fill-opacity=".06"/><path d="M30 1v28" stroke="#000" stroke-opacity=".12" stroke-width="1"/><rect x="10" y="5.7" width="10" height="1.700" fill="#fff" opacity="0.75"/><rect x="10" y="10" width="10" height="1.700" fill="#fff" opacity="0.9"/><rect x="10" y="14.2" width="10" height="1.700" fill="#fff" opacity="0.95"/><rect x="10" y="18.4" width="10" height="1.700" fill="#fff" opacity="0.8"/><rect x="10" y="22.5" width="10" height="1.700" fill="#fff" opacity="1"/><text x="38.8" y="19.7" class="nl">data</text><rect class="pt" x="-5" y="10" width="10" height="10" rx="3"/></g>
<g transform="translate(260 881)"><rect x="0" y="0" width="540" height="78" rx="5" fill="#fff" stroke="#999" stroke-width="1"/><path d="M5.500 1h24.500v76h-24.500a4.500 4.500 0 0 1-4.500-4.500v-67a4.500 4.500 0 0 1 4.500-4.500Z" fill="#000" fill-opacity=".06"/><g transform="translate(0 24)"><path fill="#fff" stroke="#c4c4c4" stroke-width="1.200" d="M14.500 9.400c-4.400 0-8 2.500-8 5.600 0 1.700 1.100 3.200 2.800 4.200-.300 1.300-1.100 2.500-2.300 3.300 2.200-.100 4-.900 5.200-2.100.700.100 1.500.200 2.300.200 4.400 0 8-2.500 8-5.600s-3.600-5.600-8-5.600Z"/></g><text x="38.8" y="21.9" class="nl">Using a retrained resnet model trained to recognise apples, kiwis and mangos</text><text x="38.8" y="41.75" class="nl">See additional notes in the info panel on the sidebar</text><text x="38.8" y="61.6" class="nl">Visit flowfuse.com/blog for instructions on building your own model</text></g>
<g transform="translate(280 985)"><rect x="0" y="0" width="100" height="30" rx="5" fill="#a6bbcf" stroke="#999" stroke-width="1"/><path d="M5.500 1h24.500v28h-24.500a4.500 4.500 0 0 1-4.500-4.500v-19a4.500 4.500 0 0 1 4.500-4.500Z" fill="#000" fill-opacity=".06"/><path d="M30 1v28" stroke="#000" stroke-opacity=".12" stroke-width="1"/><path fill="#fff" fill-rule="evenodd" d="M8.5 8.3H13.8V3L22 15L13.8 27V21.7H8.5Z M8.5 12.9H16.2V10.4L19 15L16.2 19.6V17.1H8.5Z"/><text x="38.8" y="19.7" class="nl">apple</text><rect class="pt" x="96.2" y="10" width="10" height="10" rx="3"/></g>
<g transform="translate(280 1025)"><rect x="0" y="0" width="100" height="30" rx="5" fill="#a6bbcf" stroke="#999" stroke-width="1"/><path d="M5.500 1h24.500v28h-24.500a4.500 4.500 0 0 1-4.500-4.500v-19a4.500 4.500 0 0 1 4.500-4.500Z" fill="#000" fill-opacity=".06"/><path d="M30 1v28" stroke="#000" stroke-opacity=".12" stroke-width="1"/><path fill="#fff" fill-rule="evenodd" d="M8.5 8.3H13.8V3L22 15L13.8 27V21.7H8.5Z M8.5 12.9H16.2V10.4L19 15L16.2 19.6V17.1H8.5Z"/><text x="38.8" y="19.7" class="nl">apple</text><rect class="pt" x="96.2" y="10" width="10" height="10" rx="3"/></g>
<g transform="translate(280 1065)"><rect x="0" y="0" width="100" height="30" rx="5" fill="#a6bbcf" stroke="#999" stroke-width="1"/><path d="M5.500 1h24.500v28h-24.500a4.500 4.500 0 0 1-4.500-4.500v-19a4.500 4.500 0 0 1 4.500-4.500Z" fill="#000" fill-opacity=".06"/><path d="M30 1v28" stroke="#000" stroke-opacity=".12" stroke-width="1"/><path fill="#fff" fill-rule="evenodd" d="M8.5 8.3H13.8V3L22 15L13.8 27V21.7H8.5Z M8.5 12.9H16.2V10.4L19 15L16.2 19.6V17.1H8.5Z"/><text x="38.8" y="19.7" class="nl">kiwi</text><rect class="pt" x="96.2" y="10" width="10" height="10" rx="3"/></g>
<g transform="translate(280 1105)"><rect x="0" y="0" width="100" height="30" rx="5" fill="#a6bbcf" stroke="#999" stroke-width="1"/><path d="M5.500 1h24.500v28h-24.500a4.500 4.500 0 0 1-4.500-4.500v-19a4.500 4.500 0 0 1 4.500-4.500Z" fill="#000" fill-opacity=".06"/><path d="M30 1v28" stroke="#000" stroke-opacity=".12" stroke-width="1"/><path fill="#fff" fill-rule="evenodd" d="M8.5 8.3H13.8V3L22 15L13.8 27V21.7H8.5Z M8.5 12.9H16.2V10.4L19 15L16.2 19.6V17.1H8.5Z"/><text x="38.8" y="19.7" class="nl">mango</text><rect class="pt" x="96.2" y="10" width="10" height="10" rx="3"/></g>
<g transform="translate(460 985)"><rect x="0" y="0" width="140" height="30" rx="5" fill="#e7e7ae" stroke="#999" stroke-width="1"/><path d="M5.500 1h24.500v28h-24.500a4.500 4.500 0 0 1-4.500-4.500v-19a4.500 4.500 0 0 1 4.500-4.500Z" fill="#000" fill-opacity=".06"/><path d="M30 1v28" stroke="#000" stroke-opacity=".12" stroke-width="1"/><path fill="#fff" d="M12.2 8.2c1.5-1.2 4-1.6 6-1 2.6.8 5 3 5.3 6 .1 1.2-.6 2.2-1.5 2.6-.7.3-1 1.2-1.6 1.8-.8.8-1.6 1.3-2 2.4-.4 1.2-.8 3.2-1.8 3.4-1.2.2-1.5-1.8-1.9-3-.3-.9-1.700-1-2.600-1-1.200 0-2.200-.4-2.300-1.400-.1-.9.5-1.600 1.400-1.900 1-.3 2.100-.1 2.800-.8.5-.5-.3-1.200-1-1.300-.9-.1-1.900.5-2.300-.3-.3-.7.5-1.200 1.100-1.500.900-.5 1.600-1.400 1.400-2.400-.1-.5-.6-1-1-.6Z"/><path fill="#fff" d="M8.6 10.300c.9-.9 2-1.700 3.100-2l-1.200 1.700c-.5.6-1.300.9-1.900.3Z"/><circle cx="9.400" cy="19.600" r=".9" fill="#fff"/><text x="38.8" y="19.7" class="nl">http request</text><rect class="pt" x="-5" y="10" width="10" height="10" rx="3"/><rect class="pt" x="136.2" y="10" width="10" height="10" rx="3"/></g>
<g transform="translate(440 1045)"><rect x="0" y="0" width="140" height="30" rx="5" fill="#fda8a8" stroke="#999" stroke-width="1"/><path d="M5.500 1h24.500v28h-24.500a4.500 4.500 0 0 1-4.500-4.500v-19a4.500 4.500 0 0 1 4.500-4.500Z" fill="#000" fill-opacity=".06"/><path d="M30 1v28" stroke="#000" stroke-opacity=".12" stroke-width="1"/><circle cx="13" cy="11.3" r="5.2" fill="none" stroke="#fff" stroke-width="1.8"/><path d="M16.3 15.6L21.6 25.3" stroke="#fff" stroke-width="2.6" stroke-linecap="round"/><text x="38.8" y="19.7" class="nl">image viewer</text><rect class="pt" x="-5" y="10" width="10" height="10" rx="3"/><rect class="pt" x="136.2" y="10" width="10" height="10" rx="3"/></g>
<g transform="translate(700 1045)"><rect x="0" y="0" width="140" height="30" rx="5" fill="#fdd0a2" stroke="#999" stroke-width="1"/><path d="M5.500 1h24.500v28h-24.500a4.500 4.500 0 0 1-4.500-4.500v-19a4.500 4.500 0 0 1 4.500-4.500Z" fill="#000" fill-opacity=".06"/><path d="M30 1v28" stroke="#000" stroke-opacity=".12" stroke-width="1"/><path fill="none" stroke="#fff" stroke-width="1.900" stroke-linecap="round" d="M9.800 23.200C10.800 26.400 13.800 27 14.600 23L17.700 7.600C18.400 3.800 20.300 3.200 21.700 5.400M10.600 15H20.500"/><text x="38.8" y="19.7" class="nl">load labels</text><rect class="pt" x="-5" y="10" width="10" height="10" rx="3"/><rect class="pt" x="136.2" y="10" width="10" height="10" rx="3"/></g>
<g transform="translate(880 1045)"><rect x="0" y="0" width="160" height="30" rx="5" fill="#fdd0a2" stroke="#999" stroke-width="1"/><path d="M5.500 1h24.500v28h-24.500a4.500 4.500 0 0 1-4.500-4.500v-19a4.500 4.500 0 0 1 4.500-4.500Z" fill="#000" fill-opacity=".06"/><path d="M30 1v28" stroke="#000" stroke-opacity=".12" stroke-width="1"/><path fill="none" stroke="#fff" stroke-width="1.900" stroke-linecap="round" d="M9.800 23.200C10.800 26.400 13.800 27 14.600 23L17.700 7.600C18.400 3.800 20.300 3.200 21.700 5.400M10.600 15H20.500"/><text x="38.8" y="19.7" class="nl">preprocessing</text><rect class="pt" x="-5" y="10" width="10" height="10" rx="3"/><rect class="pt" x="156.2" y="10" width="10" height="10" rx="3"/></g>
<g transform="translate(700 1105)"><rect x="0" y="0" width="160" height="30" rx="5" fill="#f4a000" stroke="#999" stroke-width="1"/><path d="M5.500 1h24.500v28h-24.500a4.500 4.500 0 0 1-4.500-4.500v-19a4.500 4.500 0 0 1 4.500-4.500Z" fill="#000" fill-opacity=".02"/><path d="M30 1v28" stroke="#000" stroke-opacity=".12" stroke-width="1"/><path d="M4.800 26.200L13.800 17" stroke="#fff" stroke-width="2.600"/><path d="M16.38 4.52L19.38 9.36L25.04 8.75L21.36 13.10L23.70 18.30L18.43 16.15L14.21 19.97L14.62 14.29L9.68 11.46L15.21 10.10Z" fill="none" stroke="#fff" stroke-width="2.100" stroke-linejoin="miter"/><path fill="#fff" d="M6.300 6.200l1.900 2.300-1.900 2.300-1.900-2.300ZM22.800 22l1.900 2.400-1.900 2.400-1.900-2.400Z"/><text x="38.8" y="19.7" class="nl">fruit_classifier</text><rect class="pt" x="-5" y="10" width="10" height="10" rx="3"/><rect class="pt" x="156.2" y="10" width="10" height="10" rx="3"/></g>
<g transform="translate(880 1105)"><rect x="0" y="0" width="160" height="30" rx="5" fill="#fdd0a2" stroke="#999" stroke-width="1"/><path d="M5.500 1h24.500v28h-24.500a4.500 4.500 0 0 1-4.500-4.500v-19a4.500 4.500 0 0 1 4.500-4.500Z" fill="#000" fill-opacity=".06"/><path d="M30 1v28" stroke="#000" stroke-opacity=".12" stroke-width="1"/><path fill="none" stroke="#fff" stroke-width="1.900" stroke-linecap="round" d="M9.800 23.200C10.800 26.400 13.800 27 14.600 23L17.700 7.600C18.400 3.800 20.300 3.200 21.700 5.400M10.600 15H20.500"/><text x="38.8" y="19.7" class="nl">Sort and Label</text><rect class="pt" x="-5" y="10" width="10" height="10" rx="3"/><rect class="pt" x="156.2" y="10" width="10" height="10" rx="3"/></g>
<g transform="translate(900 1165)"><rect x="0" y="0" width="160" height="30" rx="5" fill="#87a980" stroke="#999" stroke-width="1"/><path d="M5.500 1h24.500v28h-24.500a4.500 4.500 0 0 1-4.500-4.500v-19a4.500 4.500 0 0 1 4.500-4.500Z" fill="#000" fill-opacity=".06"/><path d="M30 1v28" stroke="#000" stroke-opacity=".12" stroke-width="1"/><rect x="10" y="5.7" width="10" height="1.700" fill="#fff" opacity="0.75"/><rect x="10" y="10" width="10" height="1.700" fill="#fff" opacity="0.9"/><rect x="10" y="14.2" width="10" height="1.700" fill="#fff" opacity="0.95"/><rect x="10" y="18.4" width="10" height="1.700" fill="#fff" opacity="0.8"/><rect x="10" y="22.5" width="10" height="1.700" fill="#fff" opacity="1"/><text x="38.8" y="19.7" class="nl">msg.undefined</text><rect class="pt" x="-5" y="10" width="10" height="10" rx="3"/></g>
</g></svg></div>
<div class="tb" style="left:1695px;width:24px"></div>
<div class="tb" style="left:1727px;width:24px"></div>
<div class="tb" style="left:1750px;width:25px"></div>
<div class="tb" style="left:1783px;width:24px"></div>
<div class="tb" style="left:1806px;width:25px"></div>
<div class="tb" style="left:1830px;width:25px"></div>
<div class="t" style="left:1700.2px;top:1328px;font-size:10.5px;line-height:16px;color:#4b5563;font-weight:700;font-family:'Liberation Mono',monospace;letter-spacing:-.2px">{}</div>
<svg class="a" style="left:1732px;top:1328px" width="14" height="16" viewBox="0 0 14 16"><rect x="2" y="2.500" width="10" height="12" rx="1.200" fill="none" stroke="#4b5563" stroke-width="1.400"/><rect x="4.800" y="1" width="4.400" height="2.800" rx=".8" fill="#4b5563"/></svg>
<svg class="a" style="left:1755px;top:1328px" width="15" height="16" viewBox="0 0 15 16"><path d="M7.500 1.500V10.500M4 7.500L7.500 11L11 7.500M2.500 12V14H12.500V12" fill="none" stroke="#4b5563" stroke-width="1.400" stroke-linecap="round" stroke-linejoin="round"/></svg>
<div class="t" style="left:1791.2px;top:1324px;font-size:21px;line-height:22px;color:#4b5563;font-weight:700">-</div>
<svg class="a" style="left:1811px;top:1328px" width="16" height="16" viewBox="0 0 16 16"><circle cx="6.700" cy="6.700" r="4.700" fill="none" stroke="#4b5563" stroke-width="1.400"/><path d="M10.200 10.200L14.300 14.300" stroke="#4b5563" stroke-width="1.500" stroke-linecap="round"/></svg>
<div class="t" style="left:1836px;top:1326px;font-size:20px;line-height:22px;color:#4b5563">+</div>
<div class="a" style="left:1878px;top:511px;width:600px;height:841.500px;border:1px solid #d1d5db;border-radius:6px;overflow:hidden"><div class="t" style="left:6.80px;top:4px;font-size:13px;line-height:17px;color:#4b5563;white-space:pre;">[{"id":"9a693308.7ebaf","type":"subflow","name":"flow-timer","info":"","category":"","in":</div>
<div class="t" style="left:6.80px;top:21px;font-size:13px;line-height:17px;color:#4b5563;transform:scaleX(0.9842);white-space:pre;">[{"x":80,"y":100,"wires":[{"id":"7fc82258.93e36c"}]}],"out":[{"x":440,"y":100,"wires":</div>
<div class="t" style="left:6.80px;top:39px;font-size:13px;line-height:17px;color:#4b5563;transform:scaleX(0.9881);white-space:pre;">[{"id":"7fc82258.93e36c","port":0}]}],"env":[{"name":"name","type":"str","value":"measure","ui":</div>
<div class="t" style="left:6.80px;top:56px;font-size:13px;line-height:17px;color:#4b5563;transform:scaleX(0.9876);white-space:pre;">{"icon":"font-awesome/fa-tag","label":{"en-US":"Timer Name"},"type":"input","opts":{"types":</div>
<div class="t" style="left:6.80px;top:74px;font-size:13px;line-height:17px;color:#4b5563;white-space:pre;">["str","env"]}}},{"name":"operation","type":"str","value":"start","ui":{"icon":"font-awesome/fa-cog","label":</div>
<div class="t" style="left:6.80px;top:91px;font-size:13px;line-height:17px;color:#4b5563;transform:scaleX(0.9912);white-space:pre;">{"en-US":"Operation"},"type":"select","opts":{"opts":[{"l":{"en-US":"start"},"v":"start"},{"l":{"en-</div>
<div class="t" style="left:6.80px;top:109px;font-size:13px;line-height:17px;color:#4b5563;transform:scaleX(0.9749);white-space:pre;">US":"stop"},"v":"stop"},{"l":{"en-US":"msg.topic"},"v":"msg.topic"},{"l":{"en-</div>
<div class="t" style="left:6.80px;top:126px;font-size:13px;line-height:17px;color:#4b5563;transform:scaleX(0.9696);white-space:pre;">US":"msg.operation"},"v":"msg.operation"},{"l":{"en-US":"msg.payload"},"v":"msg.payload"}]}}}],"meta":</div>
<div class="t" style="left:6.80px;top:144px;font-size:13px;line-height:17px;color:#4b5563;white-space:pre;">{"module":"node-red-contrib-flow-performance","type":"flow-</div>
<div class="t" style="left:6.80px;top:161px;font-size:13px;line-height:17px;color:#4b5563;transform:scaleX(0.9749);white-space:pre;">performance","version":"1.0.1","author":"Steve-Mcl","desc":"Inline flow performance measure</div>
<div class="t" style="left:6.80px;top:179px;font-size:13px;line-height:17px;color:#4b5563;transform:scaleX(0.9783);white-space:pre;">node","keywords":"node-red performance","license":"MIT"},"color":"#DAEAAA","icon":"node-red/</div>
<div class="t" style="left:6.80px;top:196px;font-size:13px;line-height:17px;color:#4b5563;transform:scaleX(0.9818);white-space:pre;">timer.svg","status":{"x":280,"y":160,"wires":[{"id":"7fc82258.93e36c","port":1}]}},</div>
<div class="t" style="left:6.80px;top:214px;font-size:13px;line-height:17px;color:#4b5563;transform:scaleX(0.9874);white-space:pre;">{"id":"7fc82258.93e36c","type":"function","z":"9a693308.7ebaf","name":"do operation","func":"// @ts-</div>
<div class="t" style="left:6.80px;top:231px;font-size:13px;line-height:17px;color:#4b5563;transform:scaleX(0.9765);white-space:pre;">ignore\nvar name = msg.perfName || env.get(\"name\");\n// @ts-ignore\nvar operation =</div>
<div class="t" style="left:6.80px;top:249px;font-size:13px;line-height:17px;color:#4b5563;transform:scaleX(0.9881);white-space:pre;">msg.perfOperation || env.get(\"operation\");\nvar measures = global.get(\"flow_timers\") || {};\nvar</div>
<div class="t" style="left:6.80px;top:266px;font-size:13px;line-height:17px;color:#4b5563;transform:scaleX(0.9725);white-space:pre;">measure = measures[name] || {};\n\nfunction doOp(measure, op){\n    if(operation === \"start\"){\n</div>
<div class="t" style="left:6.80px;top:283px;font-size:13px;line-height:17px;color:#4b5563;transform:scaleX(0.9580);white-space:pre;">measure.start = Date.now();//change to process.hrtime\n        measure.stop = null;\n</div>
<div class="t" style="left:6.80px;top:301px;font-size:13px;line-height:17px;color:#4b5563;transform:scaleX(0.9611);white-space:pre;">measure.durationMs = null;\n    } else if(operation === \"stop\") {\n        measure.stop = Date.now();//</div>
<div class="t" style="left:6.80px;top:318px;font-size:13px;line-height:17px;color:#4b5563;transform:scaleX(0.9453);white-space:pre;">change to process.hrtime\n        measure.durationMs = measure.start ? measure.stop - measure.start :</div>
<div class="t" style="left:6.80px;top:336px;font-size:13px;line-height:17px;color:#4b5563;transform:scaleX(0.9661);white-space:pre;">null;\n        msg._performance = measure;\n    }\n}\n\n\nif(operation === \"start\"){\n    doOp(measure,</div>
<div class="t" style="left:6.80px;top:353px;font-size:13px;line-height:17px;color:#4b5563;transform:scaleX(0.9687);white-space:pre;">operation);\n} else if(operation === \"stop\") {\n    doOp(measure, operation);\n    node.send([null, {</div>
<div class="t" style="left:6.80px;top:371px;font-size:13px;line-height:17px;color:#4b5563;transform:scaleX(0.9695);white-space:pre;">payload: { text: name + \": \" + measure.durationMs + \"ms\" }}]);\n} else if(operation === \"msg.topic\")</div>
<div class="t" style="left:6.80px;top:388px;font-size:13px;line-height:17px;color:#4b5563;transform:scaleX(0.9690);white-space:pre;">{\n    operation = msg.topic;\n    doOp(measure, operation);\n} else if(operation === \"msg.operation\")</div>
<div class="t" style="left:6.80px;top:406px;font-size:13px;line-height:17px;color:#4b5563;transform:scaleX(0.9651);white-space:pre;">{\n    operation = msg.operation;\n    doOp(measure, operation);\n} else if(operation === \"msg.payload\")</div>
<div class="t" style="left:6.80px;top:423px;font-size:13px;line-height:17px;color:#4b5563;transform:scaleX(0.9557);white-space:pre;">{\n    operation = msg.payload;\n    doOp(measure, operation);\n} else {\n    return [msg, null];</div>
<div class="t" style="left:6.80px;top:441px;font-size:13px;line-height:17px;color:#4b5563;transform:scaleX(0.9773);white-space:pre;">\n}\nmeasures[name] = measure;\nglobal.set(\"flow_timers\", measures);\n\nreturn [msg,</div>
<div class="t" style="left:6.80px;top:458px;font-size:13px;line-height:17px;color:#4b5563;transform:scaleX(1.0054);white-space:pre;">null];","outputs":2,"noerr":0,"initialize":"","finalize":"","libs":[],"x":250,"y":100,"wires":[[],[]]},</div>
<div class="t" style="left:6.80px;top:476px;font-size:13px;line-height:17px;color:#4b5563;transform:scaleX(0.9858);white-space:pre;">{"id":"bc1bc0c62a7d23bc","type":"tab","label":"Flow 1","disabled":false,"info":"","env":[]},</div>
<div class="t" style="left:6.80px;top:493px;font-size:13px;line-height:17px;color:#4b5563;transform:scaleX(0.9822);white-space:pre;">{"id":"23fb65b63820601f","type":"junction","z":"bc1bc0c62a7d23bc","x":420,"y":320,"wires":</div>
<div class="t" style="left:6.80px;top:511px;font-size:13px;line-height:17px;color:#4b5563;transform:scaleX(0.9682);white-space:pre;">[["83ccbd5f5c90446a"]]},</div>
<div class="t" style="left:6.80px;top:528px;font-size:13px;line-height:17px;color:#4b5563;transform:scaleX(0.9760);white-space:pre;">{"id":"91f63424a0d29cbc","type":"junction","z":"bc1bc0c62a7d23bc","x":1220,"y":620,"wires":</div>
<div class="t" style="left:6.80px;top:546px;font-size:13px;line-height:17px;color:#4b5563;transform:scaleX(0.9908);white-space:pre;">[["f0c3d67e58965419"]]},{"id":"83ccbd5f5c90446a","type":"http</div>
<div class="t" style="left:6.80px;top:563px;font-size:13px;line-height:17px;color:#4b5563;transform:scaleX(0.9875);white-space:pre;">request","z":"bc1bc0c62a7d23bc","name":"","method":"GET","ret":"bin","paytoqs":"ignore","url":"","tls":"</div>
<div class="t" style="left:6.80px;top:581px;font-size:13px;line-height:17px;color:#4b5563;transform:scaleX(0.9703);white-space:pre;">","persist":false,"proxy":"","insecureHTTPParser":false,"authType":"","senderr":false,"headers":</div>
<div class="t" style="left:6.80px;top:598px;font-size:13px;line-height:17px;color:#4b5563;transform:scaleX(0.9813);white-space:pre;">[],"x":530,"y":320,"wires":[["4635b3634da4fcae"]]},</div>
<div class="t" style="left:6.80px;top:616px;font-size:13px;line-height:17px;color:#4b5563;transform:scaleX(0.9701);white-space:pre;">{"id":"4635b3634da4fcae","type":"change","z":"bc1bc0c62a7d23bc","name":"topK 3, thres: 5%","rules":</div>
<div class="t" style="left:6.80px;top:633px;font-size:13px;line-height:17px;color:#4b5563;transform:scaleX(1.0039);white-space:pre;">[{"t":"move","p":"payload","pt":"msg","to":"image","tot":"msg"},</div>
<div class="t" style="left:6.80px;top:651px;font-size:13px;line-height:17px;color:#4b5563;transform:scaleX(1.0206);white-space:pre;">{"t":"set","p":"topK","pt":"msg","to":"3","tot":"num"},</div>
<div class="t" style="left:6.80px;top:668px;font-size:13px;line-height:17px;color:#4b5563;transform:scaleX(1.0221);white-space:pre;">{"t":"set","p":"thres","pt":"msg","to":"0.05","tot":"num"}],"action":"","property":"","from":"","to":"","reg":f</div>
<div class="t" style="left:6.80px;top:686px;font-size:13px;line-height:17px;color:#4b5563;transform:scaleX(0.9667);white-space:pre;">alse,"x":710,"y":320,"wires":[["6e50bceb1ce24b2c"]]},</div>
<div class="t" style="left:6.80px;top:703px;font-size:13px;line-height:17px;color:#4b5563;transform:scaleX(0.9820);white-space:pre;">{"id":"69fe26d3f9f01204","type":"debug","z":"bc1bc0c62a7d23bc","name":"class","active":true,"tosideba</div>
<div class="t" style="left:6.80px;top:720px;font-size:13px;line-height:17px;color:#4b5563;transform:scaleX(0.9937);white-space:pre;">r":true,"console":false,"tostatus":true,"complete":"payload","targetType":"msg","statusVal":"payload[0].l</div>
<div class="t" style="left:6.80px;top:738px;font-size:13px;line-height:17px;color:#4b5563;transform:scaleX(0.9710);white-space:pre;">abel &amp; \"(\" &amp; $round(payload[0].score * 100,2)  &amp; \"%)\"","statusType":"jsonata","x":850,"y":460,"wires":</div>
<div class="t" style="left:6.80px;top:755px;font-size:13px;line-height:17px;color:#4b5563;transform:scaleX(0.9772);white-space:pre;">[]},{"id":"79e72a324aad7633","type":"image-</div>
<div class="t" style="left:6.80px;top:773px;font-size:13px;line-height:17px;color:#4b5563;transform:scaleX(0.9818);white-space:pre;">classification","z":"bc1bc0c62a7d23bc","name":"","property":"image","propertyType":"msg","model":"Xe</div>
<div class="t" style="left:6.80px;top:790px;font-size:13px;line-height:17px;color:#4b5563;transform:scaleX(0.9602);white-space:pre;">nova/vit-base-</div>
<div class="t" style="left:6.80px;top:808px;font-size:13px;line-height:17px;color:#4b5563;transform:scaleX(0.9890);white-space:pre;">patch16-224","modelType":"name","dtype":"bnb4","topK":"topK","topKType":"msg","threshold":"thres","</div>
<div class="t" style="left:6.80px;top:825px;font-size:13px;line-height:17px;color:#4b5563;transform:scaleX(0.9707);white-space:pre;">thresholdType":"msg","x":560,"y":380,"wires":[["c7e63d8c8dccca24"]]},</div></div>
<div class="btn" style="left:2412.400px;top:1316.200px;width:61.100px;height:33.600px;background:#fff"></div>
<div class="a" style="left:272px;top:1371px;width:2206px;height:103.500px;background:#dbeafe;border:1px solid #93c5fd;border-radius:4px"></div>
<div class="t" style="left:44.80px;top:15px;font-size:23.6px;line-height:31px;color:#dc3b0f;font-weight:700;transform:scaleX(0.9890);">FlowFuse</div>
<div class="t" style="left:267.00px;top:20px;font-size:13px;line-height:17px;color:#9ca3af;transform:scaleX(0.9227);">Search through your team (CTRL + K)</div>
<div class="t" style="left:1971.50px;top:12px;font-size:10px;line-height:13px;color:#6b7280;transform:scaleX(0.9163);">TEAM:</div>
<div class="t" style="left:1971.50px;top:23px;font-size:16px;line-height:21px;color:#1f2937;transform:scaleX(0.8794);">Acme Enterprise</div>
<div class="t" style="left:2259.00px;top:20px;font-size:13.5px;line-height:18px;color:#3730a3;font-weight:700;transform:scaleX(0.8903);">Invite Members</div>
<div class="t" style="left:2458.40px;top:24px;font-size:9.5px;line-height:12px;color:#ffffff;transform:scaleX(0.9396);">CS</div>
<div class="t" style="left:47.50px;top:80px;font-size:15px;line-height:20px;color:#ffffff;transform:scaleX(0.9164);">Back to Instances</div>
<div class="t" style="left:271.80px;top:85px;font-size:18px;line-height:23px;color:#111827;font-weight:700;transform:scaleX(0.9333);">Instances</div>
<div class="t" style="left:271.80px;top:112px;font-size:13px;line-height:17px;color:#4b5563;transform:scaleX(0.9492);">Let's get your new Node-RED instance setup in no time.</div>
<div class="t" style="left:2300.30px;top:92px;font-size:13.5px;line-height:18px;color:#3730a3;font-weight:700;transform:scaleX(0.8118);">Back</div>
<div class="t" style="left:2371.80px;top:92px;font-size:13.5px;line-height:18px;color:#ffffff;font-weight:700;transform:scaleX(0.8752);">Create Instance</div>
<div class="t" style="left:1047.10px;top:208px;font-size:14px;line-height:18px;color:#d1d5db;font-weight:700;">Application</div>
<div class="t" style="left:1346.60px;top:208px;font-size:14px;line-height:18px;color:#d1d5db;font-weight:700;transform:scaleX(0.9789);">Instance</div>
<div class="t" style="left:1644.90px;top:212px;font-size:14.5px;line-height:19px;color:#4f46e5;font-weight:700;transform:scaleX(1.0052);">Flows</div>
<div class="t" style="left:1063.30px;top:266px;font-size:13.5px;line-height:18px;color:#3730a3;font-weight:700;transform:scaleX(0.8857);">Select a Blueprint</div>
<div class="t" style="left:1366.80px;top:264px;font-size:16px;line-height:21px;color:#1f2937;transform:scaleX(1.0122);">or</div>
<div class="t" style="left:1597.60px;top:266px;font-size:13.5px;line-height:18px;color:#ffffff;font-weight:700;transform:scaleX(0.8762);">Import Flows</div>
<div class="t" style="left:1243.80px;top:323px;font-size:15px;line-height:20px;color:#1f2937;transform:scaleX(0.9477);">Import your own custom Node-RED flows</div>
<div class="t" style="left:1040.90px;top:388px;font-size:15px;line-height:20px;color:#1f2937;transform:scaleX(0.9447);">Preview</div>
<div class="t" style="left:2146.00px;top:388px;font-size:15px;line-height:20px;color:#1f2937;transform:scaleX(0.9718);">Add flows</div>
<div class="t" style="left:2102.20px;top:437px;font-size:13.5px;line-height:18px;color:#3730a3;font-weight:700;transform:scaleX(0.8756);">Upload your flows.json file</div>
<div class="t" style="left:2170.20px;top:466px;font-size:16px;line-height:21px;color:#1f2937;transform:scaleX(1.0122);">or</div>
<div class="t" style="left:2138.70px;top:490px;font-size:13.5px;line-height:18px;color:#1f2937;transform:scaleX(0.9550);-webkit-text-stroke:.45px #1f2937;">paste them in</div>
<div class="t" style="left:2428.40px;top:1324px;font-size:13.5px;line-height:18px;color:#3730a3;font-weight:700;transform:scaleX(0.9198);">clear</div>
<div class="t" style="left:353.30px;top:441px;font-size:12px;line-height:16px;color:#333333;font-weight:700;transform:scaleX(1.0044);">Flow 1</div>
<div class="t" style="left:550.30px;top:441px;font-size:12px;line-height:16px;color:#3c4450;transform:scaleX(1.0153);">flow-timer</div>
<div class="t" style="left:457.70px;top:1383px;font-size:11px;line-height:14px;color:#374151;font-weight:700;transform:scaleX(1.0157);">Flow validation</div>
<div class="t" style="left:458.10px;top:1402px;font-size:11px;line-height:14px;color:#4b5563;font-style:italic;transform:scaleX(1.0185);">Imported flows are not checked for validity.</div>
<div class="t" style="left:458.10px;top:1423px;font-size:11px;line-height:14px;color:#4b5563;font-style:italic;transform:scaleX(1.0044);">Invalid or broken nodes may prevent the instance from starting.</div>
<div class="t" style="left:458.10px;top:1445px;font-size:11px;line-height:14px;color:#4b5563;font-style:italic;transform:scaleX(1.0197);">Always verify the reliability of imported flows and avoid copying flows from the World Wild Web.</div>
<div class="t" style="left:944.30px;top:1383px;font-size:11px;line-height:14px;color:#374151;font-weight:700;transform:scaleX(1.0245);">Third-party nodes</div>
<div class="t" style="left:944.80px;top:1402px;font-size:11px;line-height:14px;color:#4b5563;font-style:italic;">External nodes are not installed automatically but can be added once the instance is running.</div>
<div class="t" style="left:1412.60px;top:1383px;font-size:11px;line-height:14px;color:#374151;font-weight:700;transform:scaleX(1.0096);">Credentials and secrets</div>
<div class="t" style="left:1413.80px;top:1402px;font-size:11px;line-height:14px;color:#4b5563;font-style:italic;transform:scaleX(1.0152);">These are not imported with the flows but can be reconfigured after deployment.</div>
<div class="t" style="left:1824.40px;top:1383px;font-size:11px;line-height:14px;color:#374151;font-weight:700;transform:scaleX(1.0077);">Environment variables</div>
<div class="t" style="left:1825.00px;top:1402px;font-size:11px;line-height:14px;color:#4b5563;font-style:italic;">Any required variables must be manually added to your environment after the instance is set up.</div>
</body></html>
